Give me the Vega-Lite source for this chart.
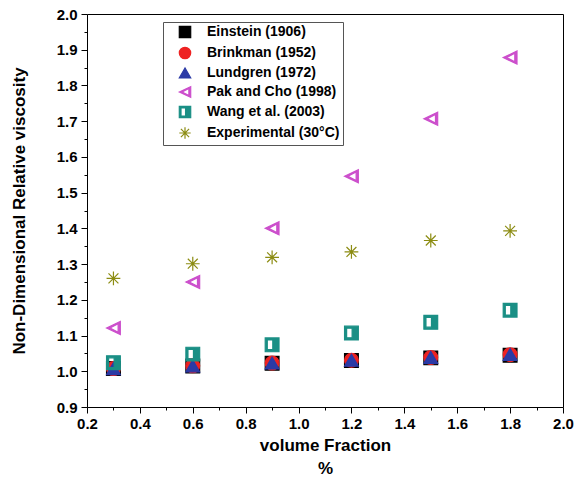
{
  "$schema": "https://vega.github.io/schema/vega-lite/v6.json",
  "width": 476,
  "height": 393,
  "autosize": {"type": "none"},
  "padding": {"left": 87, "top": 14, "right": 21, "bottom": 83},
  "background": "white",
  "config": {
    "view": {"stroke": "black", "strokeWidth": 1},
    "font": "Liberation Sans"
  },
  "data": {
    "values": [
      {"series": "Einstein (1906)", "x": 0.3, "y": 1.0075},
      {"series": "Einstein (1906)", "x": 0.6, "y": 1.015},
      {"series": "Einstein (1906)", "x": 0.9, "y": 1.0225},
      {"series": "Einstein (1906)", "x": 1.2, "y": 1.03},
      {"series": "Einstein (1906)", "x": 1.5, "y": 1.0375},
      {"series": "Einstein (1906)", "x": 1.8, "y": 1.045},
      {"series": "Brinkman (1952)", "x": 0.3, "y": 1.0075},
      {"series": "Brinkman (1952)", "x": 0.6, "y": 1.0152},
      {"series": "Brinkman (1952)", "x": 0.9, "y": 1.0229},
      {"series": "Brinkman (1952)", "x": 1.2, "y": 1.0307},
      {"series": "Brinkman (1952)", "x": 1.5, "y": 1.0385},
      {"series": "Brinkman (1952)", "x": 1.8, "y": 1.0465},
      {"series": "Lundgren (1972)", "x": 0.3, "y": 1.0076},
      {"series": "Lundgren (1972)", "x": 0.6, "y": 1.0152},
      {"series": "Lundgren (1972)", "x": 0.9, "y": 1.023},
      {"series": "Lundgren (1972)", "x": 1.2, "y": 1.0309},
      {"series": "Lundgren (1972)", "x": 1.5, "y": 1.0389},
      {"series": "Lundgren (1972)", "x": 1.8, "y": 1.047},
      {"series": "Pak and Cho (1998)", "x": 0.3, "y": 1.121},
      {"series": "Pak and Cho (1998)", "x": 0.6, "y": 1.25},
      {"series": "Pak and Cho (1998)", "x": 0.9, "y": 1.4},
      {"series": "Pak and Cho (1998)", "x": 1.2, "y": 1.546},
      {"series": "Pak and Cho (1998)", "x": 1.5, "y": 1.707},
      {"series": "Pak and Cho (1998)", "x": 1.8, "y": 1.878},
      {"series": "Wang et al. (2003)", "x": 0.3, "y": 1.024},
      {"series": "Wang et al. (2003)", "x": 0.6, "y": 1.048},
      {"series": "Wang et al. (2003)", "x": 0.9, "y": 1.074},
      {"series": "Wang et al. (2003)", "x": 1.2, "y": 1.107},
      {"series": "Wang et al. (2003)", "x": 1.5, "y": 1.137},
      {"series": "Wang et al. (2003)", "x": 1.8, "y": 1.171},
      {"series": "Experimental (30°C)", "x": 0.3, "y": 1.26},
      {"series": "Experimental (30°C)", "x": 0.6, "y": 1.301},
      {"series": "Experimental (30°C)", "x": 0.9, "y": 1.319},
      {"series": "Experimental (30°C)", "x": 1.2, "y": 1.334},
      {"series": "Experimental (30°C)", "x": 1.5, "y": 1.366},
      {"series": "Experimental (30°C)", "x": 1.8, "y": 1.393}
    ]
  },
  "resolve": {"axis": {"x": "independent", "y": "independent"}},
  "layer": [
    {
      "mark": {"type": "point", "filled": true, "size": 190, "strokeWidth": 1.2, "opacity": 1, "clip": false},
      "encoding": {
        "x": {
          "field": "x", "type": "quantitative",
          "scale": {"domain": [0.2, 2.0], "nice": false, "zero": false},
          "axis": {
            "orient": "bottom",
            "values": [0.2,0.4,0.6,0.8,1.0,1.2,1.4,1.6,1.8,2.0],
            "format": ".1f",
            "ticks": false,
            "labelOverlap": false, "labelFlush": false,
            "grid": false, "domain": false,
            "labelColor": "black",
            "labelFont": "Liberation Sans", "labelFontSize": 15, "labelFontWeight": "bold",
            "labelPadding": 9,
            "title": ["volume Fraction", "%"],
            "titleFont": "Liberation Sans", "titleFontSize": 17, "titleFontWeight": "bold",
            "titleColor": "black", "titlePadding": 6, "titleLineHeight": 23
          }
        },
        "y": {
          "field": "y", "type": "quantitative",
          "scale": {"domain": [0.9, 2.0], "nice": false, "zero": false},
          "axis": {
            "orient": "left",
            "values": [0.9,1.0,1.1,1.2,1.3,1.4,1.5,1.6,1.7,1.8,1.9,2.0],
            "format": ".1f",
            "ticks": false,
            "labelOverlap": false, "labelFlush": false,
            "grid": false, "domain": false,
            "labelColor": "black",
            "labelFont": "Liberation Sans", "labelFontSize": 15, "labelFontWeight": "bold",
            "labelPadding": 10,
            "title": "Non-Dimensional Relative viscosity",
            "titleFont": "Liberation Sans", "titleFontSize": 17, "titleFontWeight": "bold",
            "titleColor": "black", "titlePadding": 28
          }
        },
        "shape": {
          "field": "series", "type": "nominal",
          "scale": {
            "domain": ["Einstein (1906)", "Brinkman (1952)", "Lundgren (1972)", "Pak and Cho (1998)", "Wang et al. (2003)", "Experimental (30°C)"],
            "range": ["square", "circle", "triangle-up", "M-1,0L1,-0.95L1,0.95Z M-0.5,0L0.68,0.62L0.68,-0.62Z", "M-1,-1H1V1H-1Z M-0.7,-0.7V0.7H0.1V-0.7Z", "M-1,0H1M0,-1V1M-0.72,-0.72L0.72,0.72M-0.72,0.72L0.72,-0.72"]
          },
          "legend": {
            "orient": "none", "legendX": 76, "legendY": 8,
            "title": null,
            "strokeColor": "#555555", "fillColor": "white",
            "padding": 3,
            "labelFont": "Liberation Sans", "labelFontSize": 14, "labelFontWeight": "bold", "labelColor": "black",
            "labelLimit": 300, "labelOffset": 15,
            "symbolSize": 130, "symbolStrokeWidth": 1.2, "symbolOffset": 12,
            "rowPadding": 3
          }
        },
        "fill": {
          "field": "series", "type": "nominal",
          "scale": {
            "domain": ["Einstein (1906)", "Brinkman (1952)", "Lundgren (1972)", "Pak and Cho (1998)", "Wang et al. (2003)", "Experimental (30°C)"],
            "range": ["#000000", "#ee2222", "#2b3aa6", "#cc4fcc", "#1a8f85", "#8c8c12"]
          }
        },
        "stroke": {
          "field": "series", "type": "nominal",
          "scale": {
            "domain": ["Einstein (1906)", "Brinkman (1952)", "Lundgren (1972)", "Pak and Cho (1998)", "Wang et al. (2003)", "Experimental (30°C)"],
            "range": ["#000000", "#ee2222", "#2b3aa6", "#cc4fcc", "#1a8f85", "#8c8c12"]
          }
        }
      }
    },
    {
      "mark": {"type": "point", "opacity": 0},
      "encoding": {
        "x": {
          "field": "x", "type": "quantitative",
          "axis": {
            "orient": "bottom",
            "values": [0.2,0.4,0.6,0.8,1.0,1.2,1.4,1.6,1.8,2.0],
            "tickSize": 6, "tickColor": "black", "tickWidth": 1,
            "labels": false, "title": null, "grid": false, "domain": false
          }
        },
        "y": {
          "field": "y", "type": "quantitative",
          "axis": {
            "orient": "left",
            "values": [0.9,1.0,1.1,1.2,1.3,1.4,1.5,1.6,1.7,1.8,1.9,2.0],
            "tickSize": 6, "tickColor": "black", "tickWidth": 1,
            "labels": false, "title": null, "grid": false, "domain": false
          }
        }
      }
    },
    {
      "mark": {"type": "point", "opacity": 0},
      "encoding": {
        "x": {
          "field": "x", "type": "quantitative",
          "axis": {
            "orient": "bottom",
            "values": [0.3,0.5,0.7,0.9,1.1,1.3,1.5,1.7,1.9],
            "tickSize": 3, "tickColor": "black", "tickWidth": 1,
            "labels": false, "title": null, "grid": false, "domain": false
          }
        },
        "y": {
          "field": "y", "type": "quantitative",
          "axis": {
            "orient": "left",
            "values": [0.95,1.05,1.15,1.25,1.35,1.45,1.55,1.65,1.75,1.85,1.95],
            "tickSize": 3, "tickColor": "black", "tickWidth": 1,
            "labels": false, "title": null, "grid": false, "domain": false
          }
        }
      }
    }
  ]
}
